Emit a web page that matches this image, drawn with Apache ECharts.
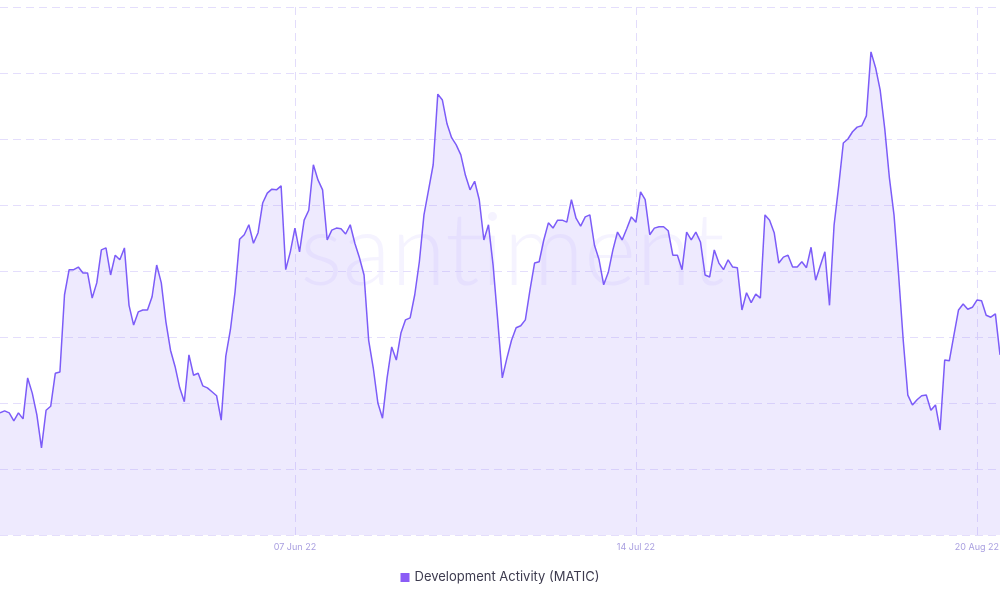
<!DOCTYPE html>
<html>
<head>
<meta charset="utf-8">
<script src="https://cdn.jsdelivr.net/npm/echarts@6/dist/echarts.min.js"></script>
<style>
html,body{margin:0;padding:0;background:#fff;overflow:hidden;}
#chart{width:1000px;height:600px;}
</style>
</head>
<body>
<div id="chart"></div>
<script>
// 12-hourly samples starting 06 May 2022 00:00
const startDate = '2022-05-06T00:00:00Z';
const stepHours = 12;
const tickLabels = ['07 Jun 22', '14 Jul 22', '20 Aug 22'];
const seriesName = 'Development Activity (MATIC)';
const devActivity = [
  18.5,18.8,18.5,17.3,18.5,17.6,23.8,21.5,18.2,13.2,
  18.9,19.5,24.5,24.7,36.4,40.2,40.2,40.6,39.7,39.7,
  35.9,38.2,43.2,43.5,39.4,42.4,41.7,43.5,34.8,31.8,
  33.8,34.1,34.1,36.1,40.9,38.2,32.3,28.0,25.5,22.3,
  20.2,27.3,24.2,24.5,22.6,22.3,21.7,21.1,17.4,27.1,
  31.1,36.8,44.8,45.5,47.0,44.2,45.8,50.3,51.8,52.4,
  52.3,52.9,40.2,42.9,46.5,42.9,47.7,49.2,56.1,53.8,
  52.3,44.7,46.2,46.5,46.4,45.6,47.0,44.2,42.0,39.4,
  29.5,25.3,20.0,17.7,23.8,28.5,26.5,30.6,32.6,32.9,
  36.4,41.4,48.5,52.3,56.1,66.8,65.9,62.3,60.2,59.1,
  57.6,54.5,52.3,53.6,50.8,44.7,47.0,40.9,32.6,23.8,
  26.8,29.5,31.4,31.7,32.6,37.1,41.2,41.4,44.7,47.3,
  46.5,47.7,47.7,47.4,50.8,48.0,46.8,48.2,48.5,43.9,
  41.7,37.9,39.8,43.2,45.9,44.7,46.4,48.2,47.4,52.0,
  50.8,45.5,46.5,46.7,46.7,46.1,42.4,42.4,40.2,45.9,
  44.7,45.9,44.4,39.4,39.1,43.2,41.2,40.2,41.7,40.6,
  40.5,34.1,36.7,35.2,36.5,35.9,48.5,47.7,45.8,41.2,
  42.1,42.4,40.6,40.6,41.4,40.5,43.6,38.6,40.8,42.9,
  34.8,47.0,52.9,59.4,60.0,61.1,61.8,62.0,63.5,73.2,
  70.8,67.4,61.5,54.1,48.5,39.4,29.5,21.2,19.7,20.5,
  21.1,21.2,18.9,19.7,15.9,26.5,26.4,30.3,34.1,35.0,
  34.2,34.5,35.6,35.5,33.3,33.0,33.5,27.3
];

const months = ['Jan','Feb','Mar','Apr','May','Jun','Jul','Aug','Sep','Oct','Nov','Dec'];
const t0 = Date.parse(startDate);
const categories = devActivity.map((v, i) => {
  const d = new Date(t0 + i * stepHours * 3600 * 1000);
  const dd = String(d.getUTCDate()).padStart(2, '0');
  const lbl = dd + ' ' + months[d.getUTCMonth()] + ' ' + String(d.getUTCFullYear()).slice(2);
  return d.getUTCHours() === 0 ? lbl : lbl + ' ' + String(d.getUTCHours()).padStart(2, '0') + ':00';
});
const isTick = (idx, val) => tickLabels.indexOf(val) !== -1;

const chart = echarts.init(document.getElementById('chart'), null, {renderer: 'canvas'});
chart.setOption({
  animation: false,
  backgroundColor: '#ffffff',
  grid: {left: 0, right: 0, top: 7, bottom: 65, containLabel: false, outerBoundsMode: 'none'},
  graphic: [{
    type: 'text',
    left: 300,
    top: 203,
    z: 0,
    silent: true,
    style: {
      text: 'santiment',
      font: '300 100px Lato, "Open Sans", sans-serif',
      fill: 'rgba(124, 92, 250, 0.075)'
    }
  }],
  legend: {
    data: [seriesName],
    bottom: 11,
    left: 'center',
    icon: 'rect',
    itemWidth: 9,
    itemHeight: 9,
    itemGap: 6,
    textStyle: {color: '#3d3b4f', fontSize: 13, fontFamily: 'Inter, "Open Sans", sans-serif'}
  },
  xAxis: {
    type: 'category',
    data: categories,
    boundaryGap: false,
    axisLine: {show: false},
    axisTick: {show: false},
    axisLabel: {
      interval: isTick,
      color: '#a99fe0',
      fontSize: 9,
      margin: 8,
      fontFamily: 'Inter, "Open Sans", sans-serif'
    },
    splitLine: {
      show: true,
      interval: isTick,
      lineStyle: {color: '#e2dcfb', type: [8, 5], width: 1}
    }
  },
  yAxis: {
    type: 'value',
    min: 0,
    max: 80,
    interval: 10,
    axisLine: {show: false},
    axisTick: {show: false},
    axisLabel: {show: false},
    splitLine: {lineStyle: {color: '#e4defc', type: [8, 5], width: 1}}
  },
  series: [{
    name: seriesName,
    type: 'line',
    data: devActivity,
    showSymbol: false,
    symbol: 'none',
    smooth: false,
    z: 3,
    itemStyle: {color: '#8b5cf6'},
    lineStyle: {color: '#7c5cf8', width: 1.5},
    areaStyle: {color: 'rgba(176, 154, 250, 0.3)'}
  }]
});
</script>
</body>
</html>
